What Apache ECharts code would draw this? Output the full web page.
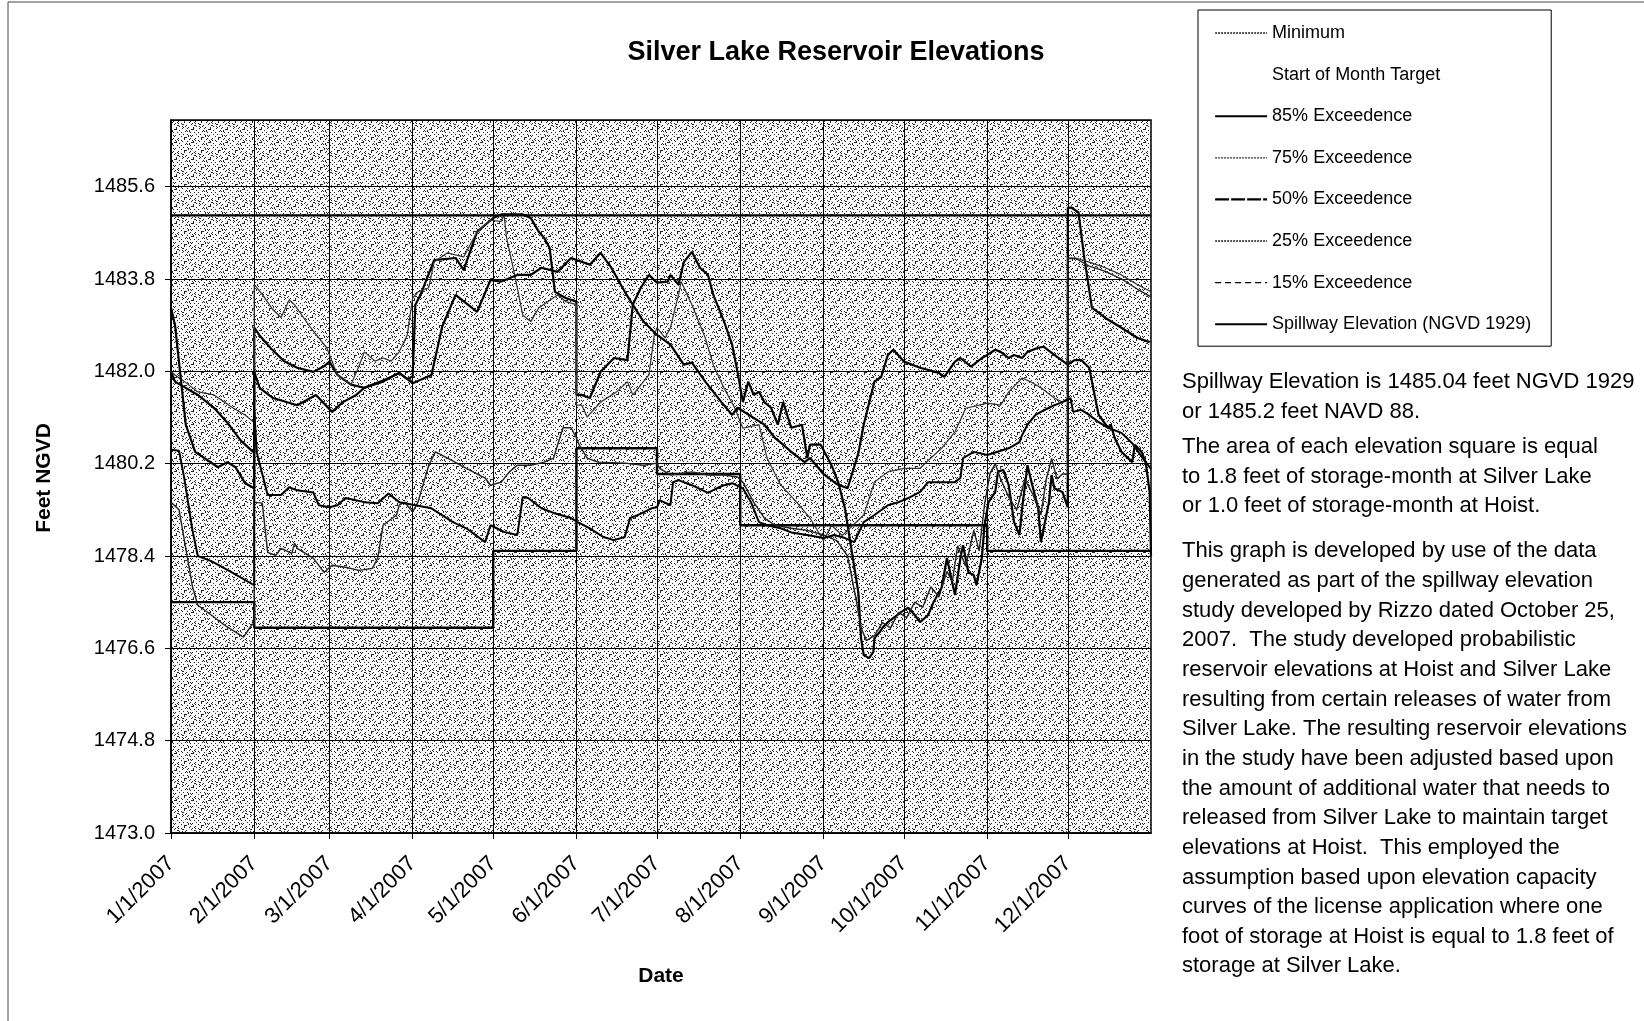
<!DOCTYPE html>
<html>
<head>
<meta charset="utf-8">
<title>Silver Lake Reservoir Elevations</title>
<script src="https://cdn.jsdelivr.net/npm/echarts@6/dist/echarts.min.js"></script>
<style>
  html, body { margin: 0; padding: 0; background: #fff; }
  #main { width: 1644px; height: 1021px; }
</style>
</head>
<body>
<div id="main"></div>
<script>
const FONT = 'Liberation Sans, Arial, Helvetica, sans-serif';

// month starts as day offsets in 2007, and their tick labels
const monthDays = [0, 31, 59, 90, 120, 151, 181, 212, 243, 273, 304, 334];
const monthLabels = ['1/1/2007', '2/1/2007', '3/1/2007', '4/1/2007', '5/1/2007', '6/1/2007',
  '7/1/2007', '8/1/2007', '9/1/2007', '10/1/2007', '11/1/2007', '12/1/2007'];

// minimum elevation, one value per month
const minimumLevel = [1477.5, 1477.0, 1477.0, 1477.0, 1478.5, 1480.5, 1480.0, 1479.0, 1479.0, 1479.0, 1478.5, 1478.5];
const spillway = 1485.04;
const monthTarget = [];

// exceedence traces: [day of year, feet NGVD]
const p85 = [[0,1482.0],[1.5,1481.8],[10,1481.54],[16,1481.29],[21,1481.0],[26,1480.65],[31,1480.41],[31,1482.85],
  [33,1482.7],[37,1482.46],[42,1482.2],[47,1482.07],[53,1481.99],[57,1482.1],[59,1482.19],[62,1481.93],[67,1481.74],
  [72,1481.68],[78,1481.8],[82,1481.89],[85,1481.97],[88,1481.85],[90,1481.9],[91,1483.3],[93,1483.5],[98,1484.17],
  [106,1484.21],[109,1483.98],[114,1484.72],[120,1484.99],[123,1485.06],[131,1485.06],[134,1484.99],[137,1484.72],
  [139,1484.6],[141,1484.41],[143,1483.55],[147,1483.43],[151,1483.36],[151,1481.54],
  [153,1481.54],[156,1481.48],[160,1481.99],[165,1482.26],[170,1482.22],[172,1483.3],[175,1483.63],[178,1483.88],
  [181,1483.73],[185,1483.75],[186,1483.88],[189,1483.69],[191,1484.13],[194,1484.33],[197,1484.02],[200,1483.88],
  [202,1483.49],[206,1482.97],[209,1482.52],[211,1481.99],[213,1481.4],[215,1481.8],[217,1481.54],[219,1481.6],
  [221,1481.4],[223.5,1481.29],[226,1480.96],[228,1481.4],[231,1480.9],[235,1480.96],[237,1480.31],[238,1480.57],
  [242,1480.57],[246,1480.17],[248.5,1479.84],[251,1479.33],[253,1478.67],[256,1477.69],[257,1476.8],[258,1476.47],
  [260,1476.41],[261.6,1476.53],[262,1476.8],[264,1476.92],[265,1477.0],[267,1477.11],[269,1477.19],[272,1477.31],
  [274.6,1477.39],[277,1477.25],[279,1477.11],[282,1477.25],[284,1477.5],[287,1477.78],[289,1478.36],[292,1477.64],
  [294,1478.36],[295,1478.61],[297,1478.08],[299,1478.03],[300,1477.83],[302,1478.36],[303,1479.0],[304.5,1479.45],
  [307,1479.65],[308,1480.04],[310,1480.08],[312,1479.78],[314,1479.06],[316,1478.81],[317,1479.33],[319,1480.17],
  [320.5,1479.84],[323,1479.33],[324,1478.67],[327,1479.45],[328,1479.98],[329,1479.72],[332,1479.65],[334,1479.35],
  [334,1485.19],[335.4,1485.19],[338,1485.1],[340,1484.27],[343,1483.24],[348,1483.04],[354,1482.85],[360,1482.65],
  [364.5,1482.57]];

const p75 = [[0,1482.0],[1.5,1481.93],[5,1481.8],[10,1481.6],[16,1481.54],[23,1481.29],[27.6,1481.15],[31,1481.0],
  [31,1483.69],[34,1483.5],[38,1483.2],[41,1483.05],[44,1483.39],[46,1483.3],[52,1482.85],[58,1482.46],[62,1481.93],
  [67,1481.74],[70,1482.1],[72,1482.38],[76,1482.2],[79,1482.26],[82,1482.2],[85,1482.38],[88,1482.71],[90,1483.43],
  [92,1483.55],[96,1483.63],[98,1484.13],[103,1484.31],[109,1484.23],[114,1484.72],[119,1484.95],[123,1484.92],
  [124,1485.06],[125,1484.6],[128,1483.88],[131,1483.1],[134,1482.97],[137,1483.24],[144,1483.49],[147,1483.36],
  [151,1483.3],[151,1481.34],[153,1481.34],[155,1481.11],[160,1481.4],[166,1481.6],[170,1481.8],[172,1481.54],
  [178,1481.93],[180,1482.71],[181,1482.85],[184,1482.65],[186,1482.85],[189,1483.49],[190,1483.75],[194,1483.3],
  [199,1482.65],[202,1482.12],[206,1481.67],[210,1481.28],[213,1480.89],[219,1480.96],[222,1480.31],[227,1479.79],
  [233,1479.45],[238,1479.14],[243,1478.7],[246,1479.0],[250,1478.8],[254,1479.0],[258,1479.2],[262,1479.84],
  [267,1480.04],[273,1480.11],[279,1480.11],[283,1480.31],[287,1480.5],[292,1480.82],[296,1481.28],[301,1481.34],
  [304,1481.38],[309,1481.34],[312,1481.6],[317,1481.87],[320,1481.8],[324,1481.68],[329,1481.48],[332,1481.4],
  [334,1481.48],[334,1484.21],[337,1484.21],[342,1484.13],[348,1484.02],[354,1483.88],[360,1483.69],[365,1483.55]];

const p50 = [[0,1483.24],[1.5,1482.9],[5.5,1480.96],[9,1480.43],[17.5,1480.13],[21,1480.23],[24,1480.13],[27.6,1479.82],
  [31,1479.72],[31,1481.99],[33,1481.68],[38,1481.48],[47,1481.34],[54,1481.54],[60,1481.21],[64,1481.4],[69,1481.54],
  [72,1481.68],[79,1481.8],[82,1481.89],[85,1481.97],[90,1481.77],[97,1481.93],[101,1482.87],[106,1483.49],
  [114,1483.16],[119,1483.78],[123,1483.75],[129,1483.88],[134,1483.88],[138,1484.02],[144,1483.94],[149,1484.21],
  [151,1484.17],[156,1484.08],[160,1484.31],[164,1484.02],[169,1483.55],[172,1483.3],[176,1482.97],[181,1482.71],
  [186,1482.52],[191,1482.13],[194,1482.17],[199,1481.8],[205,1481.4],[209,1481.15],[211,1481.29],[221,1480.96],
  [225,1480.7],[228,1480.57],[231,1480.43],[236,1480.23],[238,1480.31],[243,1480.0],[248,1479.8],[252,1479.72],
  [256,1480.4],[258,1480.96],[262,1481.8],[264.5,1481.89],[267,1482.32],[269,1482.42],[273,1482.19],[279,1482.07],
  [286,1481.97],[288,1481.89],[292,1482.19],[294,1482.26],[298,1482.09],[302,1482.26],[304,1482.32],[307,1482.42],
  [309,1482.38],[312,1482.26],[314,1482.32],[317,1482.26],[319,1482.38],[323,1482.46],[325,1482.48],[329,1482.32],
  [334,1482.13],[336.5,1482.22],[339,1482.22],[342,1482.07],[344,1481.54],[345.5,1481.15],[349,1480.9],[350,1480.96],
  [351.5,1480.7],[354,1480.43],[358,1480.23],[359,1480.57],[361.5,1480.43],[363,1480.23],[364.5,1479.65],[365,1478.4]];

const p25 = [[0,1479.45],[3,1479.3],[5,1478.7],[8,1477.8],[10,1477.44],[15,1477.25],[20,1477.05],[27,1476.82],
  [30,1477.05],[31,1477.1],[31,1479.45],[34,1479.43],[36,1478.47],[39,1478.41],[41,1478.55],[45,1478.45],[46,1478.65],
  [47,1478.55],[53,1478.36],[57,1478.08],[60,1478.22],[65,1478.18],[70,1478.12],[75,1478.16],[77,1478.36],[79,1479.0],
  [84,1479.2],[85,1479.39],[87,1479.45],[90,1479.26],[92,1479.45],[96,1480.17],[98.5,1480.43],[103,1480.31],
  [110,1480.11],[117,1479.92],[119,1479.78],[123,1479.84],[126,1480.04],[129,1480.17],[134,1480.17],[139,1480.23],
  [142.5,1480.31],[144,1480.57],[146,1480.9],[149,1480.9],[151,1480.7],[152,1480.57],[155,1480.31],[159,1480.23],
  [169,1480.21],[176,1480.17],[181,1480.21],[182,1480.11],[186,1479.98],[194,1480.04],[200,1479.98],[206,1479.98],
  [211,1479.94],[213,1479.84],[217,1479.45],[221,1479.14],[225,1479.0],[231,1478.94],[237,1478.9],[243,1478.81],
  [248,1478.7],[252,1478.4],[255,1477.6],[257,1477.0],[259,1476.75],[262,1476.85],[265,1477.1],[268,1477.0],
  [271,1477.3],[274,1477.2],[277,1477.5],[280,1477.4],[283,1477.8],[286,1477.6],[289,1478.1],[291,1477.9],
  [293,1478.6],[296,1478.2],[299,1478.9],[301,1478.5],[303,1479.4],[305,1480.0],[307,1480.2],[309,1479.9],
  [312,1479.55],[315,1479.3],[318,1479.9],[321,1479.6],[324,1479.2],[326,1479.9],[328,1480.3],[330,1479.9],
  [332,1480.0],[334,1480.0],[334,1484.2],[337,1484.2],[342,1484.05],[348,1483.95],[354,1483.8],[360,1483.6],[365,1483.45]];

const p15 = [[0,1480.47],[3,1480.45],[5,1479.9],[8,1478.9],[10,1478.4],[15,1478.3],[22,1478.1],[31,1477.83],
  [31,1481.2],[32,1480.41],[36,1479.59],[41,1479.59],[44,1479.74],[47,1479.68],[53,1479.64],[55,1479.39],[59,1479.35],
  [62,1479.39],[65,1479.53],[72,1479.45],[77,1479.43],[81,1479.62],[85,1479.45],[87,1479.43],[91,1479.39],[97,1479.33],
  [105,1479.06],[110,1478.94],[117,1478.67],[119,1479.0],[124,1478.87],[129,1478.81],[131,1479.55],[133,1479.53],
  [138,1479.33],[142.5,1479.24],[149,1479.14],[151.5,1479.06],[156,1478.94],[161,1478.77],[165,1478.71],[169,1478.77],
  [171,1479.14],[174,1479.2],[179,1479.33],[181,1479.35],[182,1479.49],[186,1479.39],[187,1479.84],[189,1479.88],
  [194,1479.78],[200,1479.63],[204,1479.74],[206,1479.78],[209,1479.82],[213,1479.72],[216,1479.45],[219,1479.06],
  [222,1479.0],[227,1478.94],[231,1478.86],[237,1478.81],[243,1478.75],[247,1478.81],[251,1478.75],[254.5,1478.67],
  [258,1479.06],[262,1479.2],[267,1479.39],[271,1479.45],[274.6,1479.53],[279,1479.65],[282,1479.84],[286,1479.84],
  [292,1479.84],[294,1479.92],[295,1480.31],[299,1480.43],[304,1480.37],[312,1480.5],[316,1480.62],[317,1480.76],
  [319,1480.96],[322,1481.15],[324,1481.21],[327,1481.29],[329,1481.34],[332,1481.4],[335,1481.48],[336,1481.21],
  [339,1481.25],[342,1481.15],[345.5,1481.01],[349,1480.9],[354,1480.8],[358,1480.6],[362,1480.3],[365,1480.1]];

const notes = [
  ['Spillway Elevation is 1485.04 feet NGVD 1929', 'or 1485.2 feet NAVD 88.'],
  ['The area of each elevation square is equal', 'to 1.8 feet of storage-month at Silver Lake',
   'or 1.0 feet of storage-month at Hoist.'],
  ['This graph is developed by use of the data', 'generated as part of the spillway elevation',
   'study developed by Rizzo dated October 25,', '2007.  The study developed probabilistic',
   'reservoir elevations at Hoist and Silver Lake', 'resulting from certain releases of water from',
   'Silver Lake. The resulting reservoir elevations', 'in the study have been adjusted based upon',
   'the amount of additional water that needs to', 'released from Silver Lake to maintain target',
   'elevations at Hoist.  This employed the', 'assumption based upon elevation capacity',
   'curves of the license application where one', 'foot of storage at Hoist is equal to 1.8 feet of',
   'storage at Silver Lake.']
];

// dotted print-style fill for the plot area
function stipple() {
  const c = document.createElement('canvas');
  c.width = 51; c.height = 47;
  const g = c.getContext('2d');
  g.fillStyle = '#fbfbfb';
  g.fillRect(0, 0, c.width, c.height);
  g.fillStyle = '#222';
  for (let y = 0; y < c.height; y++) {
    for (let x = 0; x < c.width; x++) {
      if (((x * 37 + y * 91 + x * y * 13) % 17) < 3) g.fillRect(x, y, 1, 1);
    }
  }
  return c;
}

function line(name, pts, width, color, z) {
  return {
    name: name, type: 'line', symbol: 'none', showSymbol: false, silent: true, z: z,
    data: pts,
    itemStyle: { color: color },
    lineStyle: { width: width, color: color },
    emphasis: { disabled: true }
  };
}

const minData = monthDays.map((d, i) => [d, minimumLevel[i]]);
minData.push([365, minimumLevel[minimumLevel.length - 1]]);

const chart = echarts.init(document.getElementById('main'));

const textBlocks = [];
const noteTops = [367, 432, 536.5];
notes.forEach((lines, i) => {
  textBlocks.push({
    type: 'text', left: 1182, top: noteTops[i], silent: true,
    style: { text: lines.join('\n'), font: '22px ' + FONT, fill: '#000', lineHeight: 29.65 }
  });
});

const option = {
  animation: false,
  backgroundColor: '#fff',
  title: {
    text: 'Silver Lake Reservoir Elevations',
    left: 836, top: 39, textAlign: 'center', padding: 0,
    textStyle: { fontFamily: FONT, fontSize: 27, fontWeight: 'bold', color: '#000' }
  },
  legend: {
    orient: 'vertical', left: 1198, top: 10,
    padding: [13, 20, 12, 16],
    itemWidth: 52, itemHeight: 14, itemGap: 21.6, itemTextGap: 0,
    borderColor: '#000', borderWidth: 1, backgroundColor: '#fff',
    selectedMode: false,
    itemStyle: { opacity: 0 },
    textStyle: { fontFamily: FONT, fontSize: 18, color: '#000', lineHeight: 20 },
    data: [
      { name: 'Minimum', lineStyle: { type: [2, 1], width: 1.5, color: '#222' } },
      { name: 'Start of Month Target' },
      { name: '85% Exceedence' },
      { name: '75% Exceedence', lineStyle: { type: [2, 1], width: 1.2, color: '#333' } },
      { name: '50% Exceedence', lineStyle: { type: [14, 2], width: 2.2, color: '#000' } },
      { name: '25% Exceedence', lineStyle: { type: [2, 1], width: 1.5, color: '#222' } },
      { name: '15% Exceedence', lineStyle: { type: [6, 4], width: 1.2, color: '#000' } },
      { name: 'Spillway Elevation (NGVD 1929)' }
    ]
  },
  grid: {
    left: 171, top: 120, width: 980, height: 713,
    show: true, backgroundColor: { image: stipple(), repeat: 'repeat' },
    borderColor: '#000', borderWidth: 1.5
  },
  xAxis: {
    type: 'value', min: 0, max: 365,
    name: 'Date', nameLocation: 'middle', nameGap: 133,
    nameTextStyle: { fontFamily: FONT, fontSize: 21, fontWeight: 'bold', color: '#000' },
    axisLine: { lineStyle: { color: '#000', width: 1.5 } },
    axisTick: { show: true, length: 6, lineStyle: { color: '#000' }, customValues: monthDays },
    axisLabel: {
      customValues: monthDays, rotate: 45, margin: 27,
      fontFamily: FONT, fontSize: 22, color: '#000',
      formatter: v => monthLabels[monthDays.indexOf(v)] || ''
    },
    splitLine: { show: true, lineStyle: { color: '#000', width: 1 } }
  },
  yAxis: {
    type: 'value', min: 1473, max: 1486.9, interval: 1.8,
    axisLine: { show: true, lineStyle: { color: '#000', width: 1.5 } },
    axisTick: { show: true, length: 6, lineStyle: { color: '#000' } },
    axisLabel: {
      showMaxLabel: false, margin: 16, fontFamily: FONT, fontSize: 20, color: '#000',
      formatter: v => v.toFixed(1)
    },
    splitLine: { show: true, lineStyle: { color: '#000', width: 1 } }
  },
  graphic: [
    { type: 'line', silent: true, shape: { x1: 8, y1: 2, x2: 1644, y2: 2 }, style: { stroke: '#444', lineWidth: 1 } },
    { type: 'line', silent: true, shape: { x1: 8, y1: 2, x2: 8, y2: 1021 }, style: { stroke: '#444', lineWidth: 1 } },
    {
      type: 'text', x: 44, y: 478, rotation: Math.PI / 2, silent: true,
      style: { text: 'Feet NGVD', font: 'bold 21px ' + FONT, fill: '#000', align: 'center', verticalAlign: 'middle' }
    }
  ].concat(textBlocks),
  series: [
    Object.assign(line('Minimum', minData, 2.4, '#000', 3), { step: 'end' }),
    line('Start of Month Target', monthTarget, 1, 'rgba(0,0,0,0)', 3),
    line('85% Exceedence', p85, 2.2, '#000', 4),
    line('75% Exceedence', p75, 1.2, '#333', 4),
    line('50% Exceedence', p50, 2.2, '#000', 4),
    line('25% Exceedence', p25, 1.4, '#222', 4),
    line('15% Exceedence', p15, 2.0, '#000', 4),
    line('Spillway Elevation (NGVD 1929)', [[0, spillway], [365, spillway]], 2.4, '#000', 5)
  ]
};

chart.setOption(option);
</script>
</body>
</html>
